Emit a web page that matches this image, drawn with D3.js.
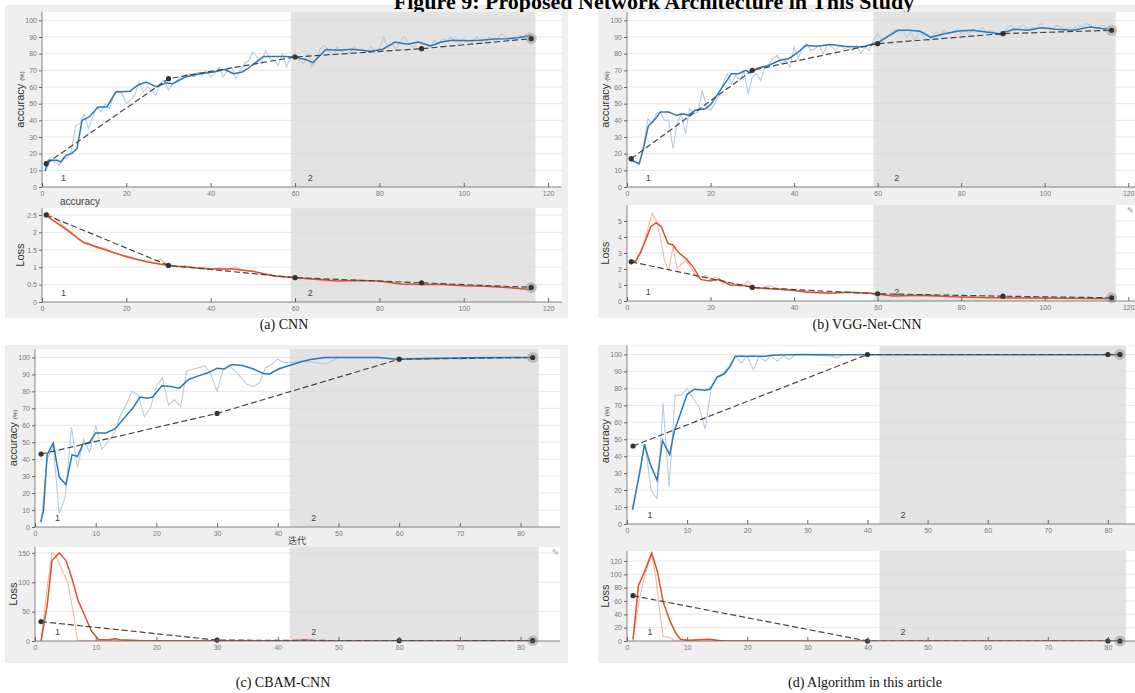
<!DOCTYPE html>
<html>
<head>
<meta charset="utf-8">
<script src="https://cdn.jsdelivr.net/npm/d3@7"></script>
<style>
  body { margin: 0; background: #fff; }
  svg { display: block; }
  .tick text { font-family: "Liberation Sans", Arial, sans-serif; font-size: 7px; fill: #777; }
</style>
</head>
<body>
<svg></svg>
<script>

// ---- data: [epoch, value] ----

// (a) CNN
const cnnAccRaw = [[1,10],[2,16],[3,15],[4,13],[5,18],[6,17],[7,22],[8,37],[9,38],[10,44],[11,35],[12,42],[13,48],[14,45],[15,50],[16,47],[17,55],[18,58],[19,56],[20,50],[21,52],[22,55],[23,63],[24,57],[25,60],[26,58],[27,55],[28,62],[29,64],[30,58],[31,62],[32,64],[33,66],[34,67],[35,68],[36,66],[37,69],[38,67],[39,70],[40,66],[41,68],[42,72],[43,66],[44,70],[45,72],[46,65],[47,70],[48,74],[49,76],[50,81],[51,78],[52,74],[53,82],[54,77],[55,76],[56,73],[57,80],[58,72],[59,78],[60,80],[61,76],[62,74],[63,80],[64,72],[65,76],[66,83],[67,85],[68,82],[69,79],[70,84],[71,81],[72,83],[73,80],[74,84],[75,82],[76,83],[77,81],[78,84],[79,81],[80,83],[81,90],[82,84],[83,86],[84,82],[85,88],[86,90],[87,86],[88,84],[89,87],[90,86],[91,85],[92,84],[93,88],[94,86],[95,89],[96,88],[97,90],[98,87],[99,86],[100,89],[101,88],[102,87],[103,90],[104,88],[105,86],[106,90],[107,88],[108,89],[109,92],[110,90],[111,88],[112,90],[113,91],[114,90],[115,92],[116,93]];
const cnnAccSmooth = [[0.7,9.5],[1.5,16],[3.6,16],[4.5,15],[5.7,19],[7,20],[8.3,23],[9.5,40],[11.2,42],[13.3,48],[15.4,48],[17.5,57],[20.9,57.5],[22.6,61],[24.7,63],[27.2,60],[29.3,62.5],[31,62],[34,66],[37.4,68],[40.7,69],[43.3,70.5],[45.4,68],[47.5,69],[49.6,72.6],[52.5,78.3],[57.6,78.3],[60,78],[62.6,76.4],[64.2,74.7],[66,79],[67.3,82.5],[70.2,82],[73.6,82.7],[77.8,81.5],[80.8,82.7],[83.7,87],[86.7,85.7],[89.2,87],[92.2,84.6],[94.7,87],[97.2,88],[100.6,87.8],[104,88],[107.3,88.8],[110.3,89],[113,89.5],[116,91]];
const cnnAccTrend = [[1,14],[30,65],[60,78],[90,83],[116,89]];

const cnnLossRaw = [[1,2.6],[3,2.4],[5,2.2],[7,2.0],[9,1.75],[11,1.7],[13,1.55],[15,1.55],[17,1.4],[19,1.35],[21,1.3],[23,1.2],[25,1.2],[27,1.1],[28,1.25],[30,1.05],[32,1.0],[34,1.05],[36,0.98],[38,1.0],[40,0.95],[42,0.98],[44,0.95],[46,1.0],[48,0.9],[50,0.88],[52,0.82],[55,0.75],[58,0.72],[60,0.7],[63,0.66],[66,0.62],[68,0.58],[70,0.66],[73,0.6],[76,0.63],[80,0.6],[83,0.55],[86,0.5],[89,0.52],[92,0.5],[95,0.52],[98,0.47],[101,0.48],[104,0.45],[107,0.46],[110,0.42],[113,0.4],[116,0.36]];
const cnnLossSmooth = [[0.7,2.5],[5,2.15],[10,1.7],[15,1.5],[20,1.3],[25,1.15],[30,1.05],[35,1.0],[40,0.95],[45,0.95],[50,0.88],[55,0.75],[60,0.7],[65,0.65],[70,0.6],[75,0.62],[80,0.6],[85,0.52],[90,0.5],[95,0.5],[100,0.47],[105,0.45],[110,0.42],[116,0.35]];
const cnnLossTrend = [[1,2.5],[30,1.05],[60,0.7],[90,0.55],[116,0.42]];

// (b) VGG-Net-CNN
const vggAccRaw = [[1,17],[2,15],[3,14],[4,25],[5,41],[6,38],[7,44],[8,45],[9,40],[10,40],[11,23],[12,38],[13,44],[14,32],[15,47],[16,44],[17,45],[18,58],[19,48],[20,46],[21,50],[22,55],[23,62],[24,68],[25,62],[26,67],[27,64],[28,69],[29,56],[30,66],[31,68],[32,64],[33,72],[34,74],[35,77],[36,79],[37,74],[38,76],[39,72],[40,84],[41,77],[42,84],[43,86],[44,82],[45,83],[46,85],[47,80],[48,86],[49,84],[50,82],[51,85],[52,83],[53,84],[54,82],[55,85],[56,80],[57,84],[58,82],[59,88],[60,92],[61,88],[62,90],[63,92],[64,94],[65,93],[66,94],[67,90],[68,93],[69,88],[70,94],[71,90],[72,88],[73,90],[74,93],[75,91],[76,94],[77,92],[78,93],[79,95],[80,92],[81,94],[82,92],[83,95],[84,93],[85,96],[86,92],[87,94],[88,93],[89,91],[90,93],[91,95],[92,97],[93,94],[94,96],[95,97],[96,94],[97,96],[98,95],[99,98],[100,95],[101,96],[102,95],[103,97],[104,96],[105,95],[106,96],[107,95],[108,97],[109,96],[110,98],[111,97],[112,95],[113,96],[114,97],[115,95],[116,96]];
const vggAccSmooth = [[0.6,16],[1.8,15.3],[2.9,13.8],[3.9,22.8],[5.1,36.6],[6.8,40.9],[8,45],[10,45],[11.8,43],[13.4,44],[14.7,43],[16.3,46],[18.8,47],[20,49.4],[21.7,55.7],[23.4,62],[25,68],[26.7,68],[28.4,70],[29.6,68.5],[31.3,71.3],[33.7,72.8],[36.6,76],[38.7,77],[40.4,79.8],[42.9,85],[45.4,84.5],[48.7,85.5],[52,84.5],[55.3,84],[57,84.5],[60.3,87],[62.8,90.8],[64.8,94],[67.7,94],[70.2,93.4],[72.7,89.8],[76,92],[79.4,93.6],[82.7,94],[86,93],[89.3,92],[92.6,94.7],[95.9,94],[99.2,95.5],[102.6,94.7],[106.7,94],[110.9,96],[115,94.7]];
const vggAccTrend = [[1,17],[30,70],[60,86],[90,92],[116,94]];

const vggLossRaw = [[1,2.6],[2,2.5],[3,3.0],[4,3.6],[5,4.5],[6,5.5],[7,5.0],[8,4.0],[9,2.5],[10,1.9],[11,3.4],[12,2.0],[13,2.3],[14,2.5],[15,2.2],[16,1.8],[17,1.4],[18,1.5],[19,1.6],[20,1.3],[21,1.5],[22,1.4],[23,1.1],[24,1.2],[25,1.0],[26,1.1],[27,0.9],[28,1.0],[29,1.25],[30,0.85],[32,0.8],[34,0.95],[36,0.8],[38,0.75],[40,0.7],[43,0.6],[46,0.55],[49,0.5],[52,0.55],[55,0.5],[58,0.52],[61,0.4],[64,0.3],[68,0.35],[72,0.3],[76,0.28],[80,0.25],[85,0.22],[90,0.22],[95,0.2],[100,0.18],[105,0.17],[110,0.16],[116,0.15]];
const vggLossSmooth = [[0.8,2.6],[2,2.45],[3.3,3.05],[4.9,4.1],[5.7,4.65],[7,4.9],[8.2,4.65],[9.8,3.6],[11,3.5],[12.3,3.05],[14.3,2.6],[16,2.07],[17.6,1.35],[19.7,1.25],[22.1,1.35],[24.6,1.0],[27.9,0.97],[31.1,0.82],[35.2,0.75],[39.3,0.67],[43.4,0.54],[48.4,0.49],[53.3,0.54],[58.2,0.49],[63.9,0.32],[70.5,0.36],[78.7,0.26],[86.9,0.21],[95,0.19],[103,0.17],[111.5,0.15],[116.4,0.15]];
const vggLossTrend = [[1,2.45],[30,0.85],[60,0.45],[90,0.3],[116,0.2]];

// (c) CBAM-CNN
const cbamAccRaw = [[1,2],[2,40],[3,48],[4,8],[5,18],[6,59],[7,35],[8,52],[9,44],[10,60],[11,46],[12,50],[13,55],[14,65],[15,72],[16,80],[17,78],[18,65],[19,70],[20,83],[21,88],[22,72],[23,75],[24,71],[25,92],[26,93],[27,94],[28,95],[29,90],[30,80],[31,93],[32,95],[33,92],[34,88],[35,84],[36,83],[37,85],[38,94],[39,96],[40,99],[41,97],[42,97],[44,98],[46,97],[48,96],[50,100],[55,100],[60,99],[65,100],[70,99],[75,100],[82,100]];
const cbamAccSmooth = [[0.95,3],[1.4,9.7],[2,42.7],[3,49.5],[4,29.3],[5.1,25],[6.1,42.7],[7,41.6],[7.9,48.9],[9,50],[10,55.5],[11.7,55.5],[13.2,58],[14.7,64.3],[16.2,70.5],[17.3,76.7],[18.5,76],[19.4,76.7],[20.9,83.3],[22.4,82.9],[23.8,81.9],[25.3,87],[26.8,89],[28.6,91.1],[30,93.6],[31.2,93.2],[32.4,95.9],[34.2,95.3],[36,93.2],[37.5,90.7],[38.6,90.1],[40.1,93.2],[41.9,95.3],[43.7,97.3],[45.4,98.8],[47.8,100],[53.6,100],[56.6,100],[59.6,99],[65.5,99.4],[71.4,99.8],[82,100]];
const cbamAccTrend = [[1,43],[30,67],[60,99],[82,100]];

const cbamLossRaw = [[1,0],[2,90],[2.8,150],[3.4,146],[4.5,120],[5.4,100],[6.4,43],[7,0],[8,1],[10,0.5],[13,1],[20,0.3],[40,0.3],[44,2],[46,0.5],[60,0.3],[82,0.3]];
const cbamLossSmooth = [[1,0],[2,60],[2.8,137],[4,150],[5.1,137],[6.1,106],[7.1,69],[8.2,43],[9.3,17],[10.5,2],[12.3,2],[13.2,4],[14,2],[18,0.5],[43,0.5],[44.5,1.5],[46,0.5],[82,0.5]];
const cbamLossTrend = [[1,33],[30,1.5],[60,0.5],[82,0.5]];

// (d) Algorithm in this article
const oursAccRaw = [[1,8],[2,30],[3,47],[4,20],[5,15],[6,71],[7,22],[8,76],[9,76],[10,80],[11,74],[12,69],[13,56],[14,80],[15,87],[16,89],[17,93],[18,99],[19,95],[20,99],[21,91],[22,99],[23,96],[24,99],[25,96],[26,99],[27,97],[28,100],[30,100],[34,99],[35,98],[36,100],[40,100],[82,100]];
const oursAccSmooth = [[0.9,8.5],[2.1,29.8],[2.9,47],[3.8,35.9],[5,25.8],[5.9,49.1],[7.1,41],[7.9,55.2],[9.1,67.3],[10,76.5],[11.2,79.5],[12.9,78.9],[13.8,79.5],[15,86.6],[16.2,88.6],[17.1,92.7],[18,99],[23,99],[24.1,99.6],[28.9,100],[34.7,99.8],[39.5,99.8],[52.4,99.8],[82,99.8]];
const oursAccTrend = [[1,46],[40,100],[80,100],[82,100]];

const oursLossRaw = [[1,0],[2,60],[3,100],[4.1,130],[4.8,95],[5.5,40],[6,7],[7.2,5],[8,0],[82,0]];
const oursLossSmooth = [[1,2.5],[1.9,83],[3.1,108],[4.1,132],[5.1,103],[6,59],[7.2,29],[8.1,12],[8.9,2.5],[10.1,1],[13.6,2.5],[16,0],[82,0]];
const oursLossTrend = [[1,68],[40,0],[80,0],[82,0]];

// ticks
const accTicks = d3.range(0, 101, 10);
const epochTicks120 = [0, 20, 40, 60, 80, 100, 120];
const epochTicks80 = [0, 10, 20, 30, 40, 50, 60, 70, 80];
const cnnLossTicks = [0, 0.5, 1, 1.5, 2, 2.5];
const vggLossTicks = [0, 1, 2, 3, 4, 5];
const cbamLossTicks = [0, 50, 100, 150];
const oursLossTicks = [0, 20, 40, 60, 80, 100, 120];

const captions = ["(a)  CNN", "(b)  VGG-Net-CNN", "(c)  CBAM-CNN", "(d)  Algorithm in this article"];

// ---- drawing ----
const w = 1135;
const h = 693;

const svg = d3.select("svg")
    .attr("width", w)
    .attr("height", h);

const blue = "#2a7ab9", blueRaw = "#b9cbdc";
const orange = "#d9532b", orangeRaw = "#f2b9a4";

// grey panel backgrounds
[[5, 5, 563, 313], [598, 5, 537, 313], [5, 345, 563, 318], [598, 345, 537, 318]].forEach(r => {
    svg.append("rect").attr("x", r[0]).attr("y", r[1]).attr("width", r[2]).attr("height", r[3]).attr("fill", "#efefef");
});

// title, its upper half is cut by the page edge as in the scan
svg.append("text")
   .attr("x", 654).attr("y", 9)
   .attr("text-anchor", "middle")
   .style("font-family", "'Liberation Serif', 'Times New Roman', serif")
   .style("font-weight", "bold")
   .style("font-size", "22px")
   .text("Figure 9: Proposed Network Architecture in This Study");

let clipId = 0;

function drawPlot(p) {
    const x = d3.scaleLinear().domain(p.xDomain).range(p.xRange);
    const y = d3.scaleLinear().domain(p.yDomain).range([p.bottom, p.top]);
    const g = svg.append("g");
    const left = p.xRange[0], right = p.right;

    const id = "clip" + (clipId++);
    g.append("clipPath").attr("id", id)
     .append("rect").attr("x", left).attr("y", p.top).attr("width", right - left).attr("height", p.bottom - p.top);

    g.append("rect").attr("x", left).attr("y", p.top).attr("width", right - left).attr("height", p.bottom - p.top).attr("fill", "#fff");

    g.append("rect")
     .attr("x", x(p.shade[0])).attr("y", p.top)
     .attr("width", x(p.shade[1]) - x(p.shade[0])).attr("height", p.bottom - p.top)
     .attr("fill", "#e3e3e3");

    g.selectAll(".grid").data(p.yTicks.filter(d => d > 0)).enter()
     .append("line")
     .attr("x1", left).attr("x2", right)
     .attr("y1", d => y(d)).attr("y2", d => y(d))
     .attr("stroke", "#dcdcdc").attr("stroke-width", 0.7);

    const line = d3.line().x(d => x(d[0])).y(d => y(d[1]));
    const plotArea = g.append("g").attr("clip-path", `url(#${id})`);

    plotArea.append("path").datum(p.raw).attr("d", line)
        .attr("fill", "none").attr("stroke", p.rawColor).attr("stroke-width", 1.1);
    plotArea.append("path").datum(p.smooth).attr("d", line)
        .attr("fill", "none").attr("stroke", p.color).attr("stroke-width", 1.5);
    plotArea.append("path").datum(p.trend).attr("d", line)
        .attr("fill", "none").attr("stroke", "#454545").attr("stroke-width", 1.2)
        .attr("stroke-dasharray", "6,3");

    const last = p.trend[p.trend.length - 1];
    g.append("circle").attr("cx", x(last[0])).attr("cy", y(last[1])).attr("r", 5.5)
     .attr("fill", "#9a9a9a").attr("fill-opacity", 0.55);
    g.selectAll(".dot").data(p.trend).enter()
     .append("circle")
     .attr("cx", d => x(d[0])).attr("cy", d => y(d[1]))
     .attr("r", 2.6).attr("fill", "#333");

    const xAxis = d3.axisBottom(x).tickValues(p.xTicks).tickFormat(d3.format("~g"))
        .tickSizeInner(-4).tickSizeOuter(0).tickPadding(4);
    const xg = g.append("g").attr("transform", `translate(0, ${p.bottom})`).call(xAxis);
    xg.select(".domain").remove();
    g.append("line").attr("x1", left).attr("x2", right).attr("y1", p.bottom).attr("y2", p.bottom)
     .attr("stroke", "#666").attr("stroke-width", 0.8);
    xg.selectAll(".tick line").attr("stroke", "#666");

    const yAxis = d3.axisLeft(y).tickValues(p.yTicks).tickFormat(d3.format("~g"))
        .tickSizeInner(3).tickSizeOuter(0).tickPadding(2);
    const yg = g.append("g").attr("transform", `translate(${left}, 0)`).call(yAxis);
    yg.select(".domain").remove();
    g.append("line").attr("x1", left).attr("x2", left).attr("y1", p.top).attr("y2", p.bottom)
     .attr("stroke", "#666").attr("stroke-width", 0.8);
    yg.selectAll(".tick line").attr("stroke", "#666");

    g.append("text").attr("x", x(p.lab1)).attr("y", p.bottom - 6)
     .style("font-family", "'Liberation Sans', Arial, sans-serif").style("font-size", "9px").attr("fill", "#444").text("1");
    g.append("text").attr("x", x(p.lab2)).attr("y", p.bottom - 6)
     .style("font-family", "'Liberation Sans', Arial, sans-serif").style("font-size", "9px").attr("fill", "#444").text("2");

    const yl = g.append("text")
     .attr("transform", `translate(${p.ylabX}, ${(p.top + p.bottom) / 2}) rotate(-90)`)
     .attr("text-anchor", "middle")
     .style("font-family", "'Liberation Sans', Arial, sans-serif")
     .attr("fill", "#333");
    if (p.accuracy) {
        yl.append("tspan").style("font-size", "11px").text("accuracy ");
        yl.append("tspan").style("font-size", "6px").text("(%)");
    } else {
        yl.style("font-size", "11px").text("Loss");
    }

    if (p.xlabel) {
        g.append("text").attr("x", p.xlabel[1]).attr("y", p.bottom + p.xlabel[4])
         .attr("text-anchor", p.xlabel[2])
         .style("font-family", "'Liberation Sans', 'Noto Sans CJK SC', Arial, sans-serif")
         .style("font-size", p.xlabel[3]).attr("fill", "#444")
         .text(p.xlabel[0]);
    }
    if (p.icon) {
        g.append("text").attr("x", right - 8).attr("y", p.top + 8)
         .style("font-size", "8px").attr("fill", "#999").text("✎");
    }
}

const plots = [
    // (a)
    { xDomain: [0, 123.3], xRange: [42, 562], right: 562, top: 12, bottom: 187, yDomain: [0, 105], yTicks: accTicks, xTicks: epochTicks120,
      shade: [59, 117], raw: cnnAccRaw, smooth: cnnAccSmooth, trend: cnnAccTrend, color: blue, rawColor: blueRaw,
      lab1: 4.5, lab2: 63, ylabX: 24, accuracy: true, xlabel: ["accuracy", 60, "start", "10px", 18] },
    { xDomain: [0, 123.3], xRange: [42, 562], right: 562, top: 208, bottom: 302, yDomain: [0, 2.7], yTicks: cnnLossTicks, xTicks: epochTicks120,
      shade: [59, 117], raw: cnnLossRaw, smooth: cnnLossSmooth, trend: cnnLossTrend, color: orange, rawColor: orangeRaw,
      lab1: 4.5, lab2: 63, ylabX: 24 },
    // (b)
    { xDomain: [0, 124], xRange: [627, 1145], right: 1135, top: 12, bottom: 187, yDomain: [0, 105], yTicks: accTicks, xTicks: epochTicks120,
      shade: [59, 117], raw: vggAccRaw, smooth: vggAccSmooth, trend: vggAccTrend, color: blue, rawColor: blueRaw,
      lab1: 4.5, lab2: 64, ylabX: 609, accuracy: true },
    { xDomain: [0, 124], xRange: [627, 1145], right: 1135, top: 205, bottom: 301, yDomain: [0, 6], yTicks: vggLossTicks, xTicks: epochTicks120,
      shade: [59, 117], raw: vggLossRaw, smooth: vggLossSmooth, trend: vggLossTrend, color: orange, rawColor: orangeRaw,
      lab1: 4.5, lab2: 64, ylabX: 609, icon: true },
    // (c)
    { xDomain: [0, 86.5], xRange: [35, 560], right: 560, top: 349, bottom: 527, yDomain: [0, 105], yTicks: accTicks, xTicks: epochTicks80,
      shade: [42, 83], raw: cbamAccRaw, smooth: cbamAccSmooth, trend: cbamAccTrend, color: blue, rawColor: blueRaw,
      lab1: 3.3, lab2: 45.5, ylabX: 17, accuracy: true, xlabel: ["迭代", 297, "middle", "9px", 17] },
    { xDomain: [0, 86.5], xRange: [35, 560], right: 560, top: 547, bottom: 641, yDomain: [0, 160], yTicks: cbamLossTicks, xTicks: epochTicks80,
      shade: [42, 83], raw: cbamLossRaw, smooth: cbamLossSmooth, trend: cbamLossTrend, color: orange, rawColor: orangeRaw,
      lab1: 3.3, lab2: 45.5, ylabX: 17, icon: true },
    // (d)
    { xDomain: [0, 88], xRange: [627, 1156], right: 1135, top: 346, bottom: 524, yDomain: [0, 105], yTicks: accTicks, xTicks: epochTicks80,
      shade: [42, 83], raw: oursAccRaw, smooth: oursAccSmooth, trend: oursAccTrend, color: blue, rawColor: blueRaw,
      lab1: 3.4, lab2: 45.5, ylabX: 609, accuracy: true },
    { xDomain: [0, 88], xRange: [627, 1156], right: 1135, top: 551, bottom: 641, yDomain: [0, 135], yTicks: oursLossTicks, xTicks: epochTicks80,
      shade: [42, 83], raw: oursLossRaw, smooth: oursLossSmooth, trend: oursLossTrend, color: orange, rawColor: orangeRaw,
      lab1: 3.4, lab2: 45.5, ylabX: 609 }
];

plots.forEach(drawPlot);

// captions
[[284, 329], [867, 329], [283, 687], [865, 687]].forEach((pos, i) => {
    svg.append("text")
       .attr("x", pos[0]).attr("y", pos[1])
       .attr("text-anchor", "middle")
       .style("font-family", "'Liberation Serif', 'Times New Roman', serif")
       .style("font-size", "14px")
       .attr("fill", "#111")
       .text(captions[i]);
});

</script>
</body>
</html>
